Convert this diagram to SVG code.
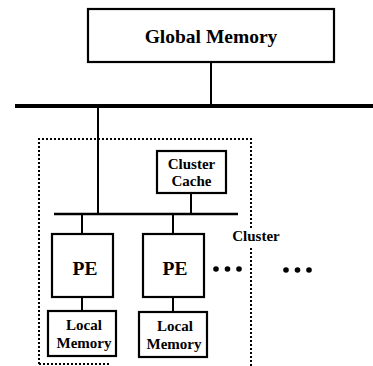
<svg xmlns="http://www.w3.org/2000/svg" width="373" height="366" viewBox="0 0 373 366">
<style>
.box{fill:#fff;stroke:#000;stroke-width:2.2}
.ln{stroke:#000;stroke-width:2;fill:none}
.dot{stroke:#000;stroke-width:2;stroke-dasharray:2 2;fill:none}
.t{font-family:'Liberation Serif','Times New Roman','DejaVu Serif',serif;font-weight:700;fill:#000;text-anchor:middle}
.big{font-size:19.5px}
.sm{font-size:15px}
</style>
<rect width="373" height="366" fill="#fff"/>
<g id="connectors">
<line class="ln" x1="211" y1="62" x2="211" y2="106"/>
<line x1="15" y1="106" x2="373" y2="106" stroke="#000" stroke-width="4"/>
<line class="ln" x1="98" y1="106" x2="98" y2="214"/>
<line class="ln" x1="191" y1="193" x2="191" y2="214"/>
<line x1="54" y1="214" x2="238" y2="214" stroke="#000" stroke-width="2.5"/>
<line class="ln" x1="82" y1="214" x2="82" y2="234"/>
<line class="ln" x1="173" y1="214" x2="173" y2="234"/>
<line class="ln" x1="82" y1="297" x2="82" y2="311"/>
<line class="ln" x1="173" y1="297" x2="173" y2="312"/>
</g>
<g id="cluster">
<path class="dot" d="M39,364 V139 H251 V228"/>
<path class="dot" d="M251,248 V366"/>
<path class="dot" d="M39,364 H110"/>
<text class="t sm" x="256" y="241">Cluster</text>
</g>
<g id="global-memory">
<rect class="box" x="88" y="9" width="246" height="53"/>
<text class="t big" x="211" y="43">Global Memory</text>
</g>
<g id="cluster-cache">
<rect class="box" x="157" y="151" width="69" height="42"/>
<text class="t sm" x="191.5" y="169">Cluster</text>
<text class="t sm" x="191.5" y="186">Cache</text>
</g>
<g id="pe1">
<rect class="box" x="52" y="234" width="61" height="63"/>
<text class="t big" x="85" y="275">PE</text>
</g>
<g id="pe2">
<rect class="box" x="143" y="234" width="61" height="63"/>
<text class="t big" x="175" y="275">PE</text>
</g>
<g id="local-memory1">
<rect class="box" x="48" y="311" width="68" height="45"/>
<text class="t sm" x="84" y="330">Local</text>
<text class="t sm" x="84" y="348">Memory</text>
</g>
<g id="local-memory2">
<rect class="box" x="139" y="312" width="68" height="45"/>
<text class="t sm" x="175" y="331">Local</text>
<text class="t sm" x="174" y="349">Memory</text>
</g>
<g id="ellipsis1">
<circle cx="216" cy="269" r="2.8"/><circle cx="227.5" cy="269" r="2.8"/><circle cx="239" cy="269" r="2.8"/>
</g>
<g id="ellipsis2">
<circle cx="286" cy="270" r="2.8"/><circle cx="297.5" cy="270" r="2.8"/><circle cx="309" cy="270" r="2.8"/>
</g>
</svg>
